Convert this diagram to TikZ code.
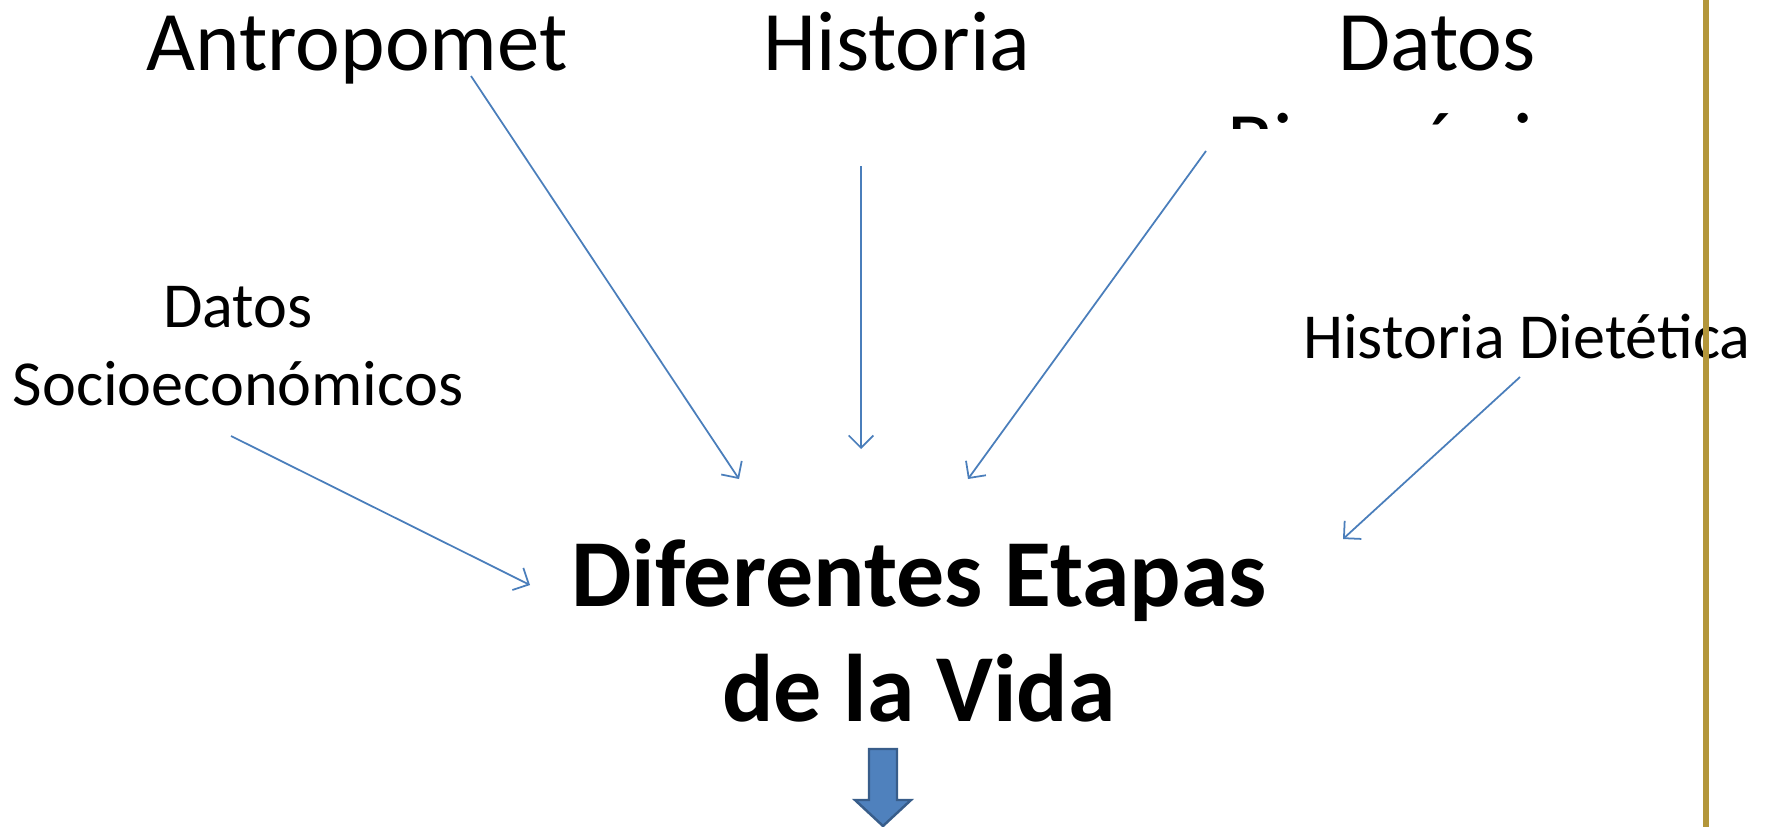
\documentclass[tikz,border=0pt]{standalone}
\usepackage{fontspec}
\setmainfont{Carlito}
\usetikzlibrary{calc, arrows.meta}

\definecolor{linkblue}{HTML}{4A7EBB}
\definecolor{arrowfill}{HTML}{4F81BD}
\definecolor{arrowedge}{HTML}{385D8A}
\definecolor{goldline}{HTML}{B3963A}

\begin{document}
\begin{tikzpicture}[x=0.01cm, y=-0.01cm]
			\tikzstyle{bigtitle}=[font=\fontsize{24.1pt}{28.7pt}\selectfont, anchor=base, inner sep=0pt, align=center]
			\tikzstyle{sidetitle}=[font=\fontsize{18.25pt}{21.9pt}\selectfont, anchor=base, inner sep=0pt, align=center]
			\tikzstyle{maintitle}=[font=\fontsize{27.3pt}{32.7pt}\selectfont\bfseries, anchor=base, inner sep=0pt, align=center]
			\tikzstyle{link}=[draw=linkblue, line width=0.5pt, -{Straight Barb[length=3.5pt, width=7pt]}]
			\tikzstyle{blockarrow}=[fill=arrowfill, draw=arrowedge, line width=0.7pt, line join=miter]
			\def\w{1775};
			\def\h{827};
			\def\rule{1706};

			\useasboundingbox (0,0) rectangle (\w,\h);

			% base anchor sits on the last line
			\begin{scope}
				\node [bigtitle] (antro) at (357,70) {Antropomet};
				\node [bigtitle] (hist) at (897,70) {Historia};
				\begin{scope}
					\clip (1150,0) rectangle (1690,128);
					\node [bigtitle] (bioq) at (1437,171) {Datos\\Bioquímicos};
				\end{scope}
			\end{scope}

			\begin{scope}
				\node [sidetitle] (socio) at (238,405) {Datos\\Socioeconómicos};
				\node [sidetitle] (dieta) at (1527,358) {Historia Dietética};
			\end{scope}

			\node [maintitle] (etapas) at (919,721) {Diferentes Etapas\\de la Vida};

			\begin{scope}
				\coordinate (antroout) at (471,76);
				\coordinate (histout) at (861,166);
				\coordinate (bioqout) at (1206,151);
				\coordinate (socioout) at (231,436);
				\coordinate (dietaout) at (1520,377);

				\coordinate (antroin) at (739,479);
				\coordinate (histin) at (861,449);
				\coordinate (bioqin) at (968,479);
				\coordinate (socioin) at (530,585);
				\coordinate (dietain) at (1343,539);

				\draw [link] (antroout) -- (antroin);
				\draw [link] (histout) -- (histin);
				\draw [link] (bioqout) -- (bioqin);
				\draw [link] (socioout) -- (socioin);
				\draw [link] (dietaout) -- (dietain);
			\end{scope}

			\begin{scope}
				\draw [blockarrow] (869,749) -- (897,749) -- (897,800) -- (911,800) -- (883,826) -- (855,800) -- (869,800) -- cycle;
			\end{scope}

			\draw [goldline, line width=1.45pt] (\rule,0) -- (\rule,\h);
		\end{tikzpicture}
\end{document}
